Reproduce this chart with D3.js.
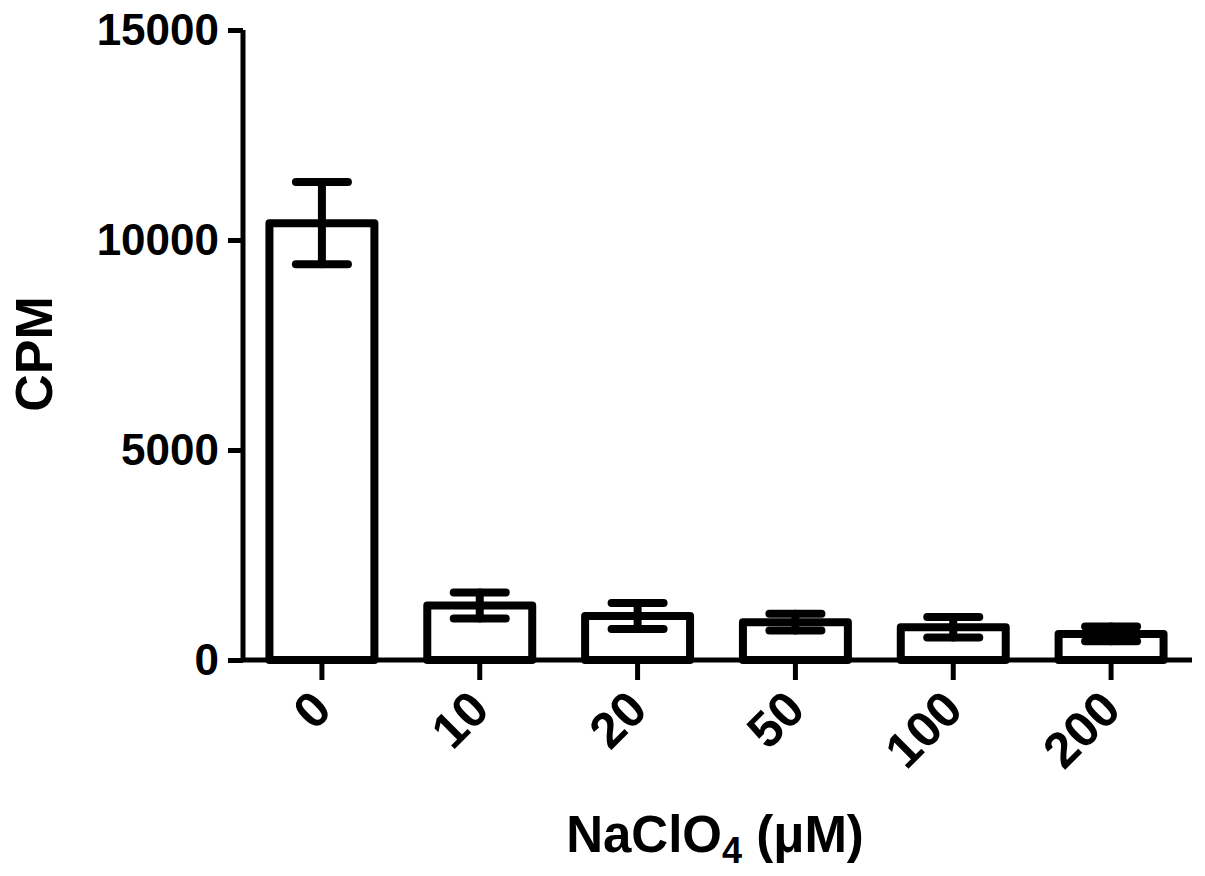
<!DOCTYPE html>
<html>
<head>
<meta charset="utf-8">
<script src="https://cdn.jsdelivr.net/npm/d3@7"></script>
<style>
  body { margin: 0; background: #fff; }
  svg { display: block; font-family: "Liberation Sans", Arial, sans-serif; font-weight: bold; }
</style>
</head>
<body>
<svg id="chart" width="1205" height="876"></svg>
<script>
// 値は図から目で読み取ったもの
const doses = ['0', '10', '20', '50', '100', '200'];
const cpm = [10400, 1300, 1050, 900, 780, 620];
const sem = [980, 310, 310, 200, 245, 175];
const yTicks = [0, 5000, 10000, 15000];

const svg = d3.select('#chart');

const x = d3.scaleBand()
  .domain(doses)
  .range([243, 1190])
  .paddingInner(0.335)
  .paddingOuter(0.1675);

const y = d3.scaleLinear()
  .domain([0, 15000])
  .range([660, 30]);

const rows = doses.map((d, i) => ({ dose: d, value: cpm[i], err: sem[i] }));

// bars
svg.append('g')
  .selectAll('rect')
  .data(rows)
  .join('rect')
  .attr('x', d => x(d.dose))
  .attr('y', d => y(d.value))
  .attr('width', x.bandwidth())
  .attr('height', d => y(0) - y(d.value))
  .attr('fill', '#fff')
  .attr('stroke', '#000')
  .attr('stroke-width', 8)
  .attr('stroke-linejoin', 'round');

// error bars
const capHalf = 26;
const eb = svg.append('g')
  .attr('stroke', '#000')
  .attr('stroke-width', 8)
  .attr('stroke-linecap', 'round');

rows.forEach(d => {
  const cx = x(d.dose) + x.bandwidth() / 2;
  const top = y(d.value + d.err);
  const bot = y(d.value - d.err);
  eb.append('line').attr('x1', cx).attr('x2', cx).attr('y1', top).attr('y2', bot);
  eb.append('line').attr('x1', cx - capHalf).attr('x2', cx + capHalf).attr('y1', top).attr('y2', top);
  eb.append('line').attr('x1', cx - capHalf).attr('x2', cx + capHalf).attr('y1', bot).attr('y2', bot);
});

// axes
const yAxis = svg.append('g')
  .attr('transform', 'translate(243,0)')
  .call(d3.axisLeft(y).tickValues(yTicks).tickSize(15).tickPadding(9).tickFormat(d3.format('d')));

const xAxis = svg.append('g')
  .attr('transform', 'translate(0,660)')
  .call(d3.axisBottom(x).tickSize(20).tickSizeOuter(0));

[yAxis, xAxis].forEach(g => {
  g.select('.domain').attr('stroke-width', 5).attr('stroke', '#000');
  g.selectAll('.tick line').attr('stroke-width', 5).attr('stroke', '#000');
  g.selectAll('.tick text')
    .attr('fill', '#000')
    .style('font-size', '44px')
    .style('font-weight', 'bold')
    .style('font-family', '"Liberation Sans", Arial, sans-serif');
});

yAxis.select('.domain').attr('d', 'M0,30V660');
xAxis.select('.domain').attr('d', 'M243,0H1192');

xAxis.selectAll('.tick text')
  .style('font-size', '50px')
  .attr('text-anchor', 'end')
  .attr('dy', null)
  .attr('y', 0)
  .attr('transform', 'translate(12,52) rotate(-45)');

// axis titles
svg.append('text')
  .attr('transform', 'translate(52,354) rotate(-90)')
  .attr('text-anchor', 'middle')
  .style('font-size', '52px')
  .text('CPM');

const xt = svg.append('text')
  .attr('x', 715)
  .attr('y', 852)
  .attr('text-anchor', 'middle')
  .style('font-size', '51px');
xt.append('tspan').text('NaClO');
xt.append('tspan').attr('dy', 11).style('font-size', '36px').text('4');
xt.append('tspan').attr('dy', -11).text(' (\u03bcM)');
</script>
</body>
</html>
